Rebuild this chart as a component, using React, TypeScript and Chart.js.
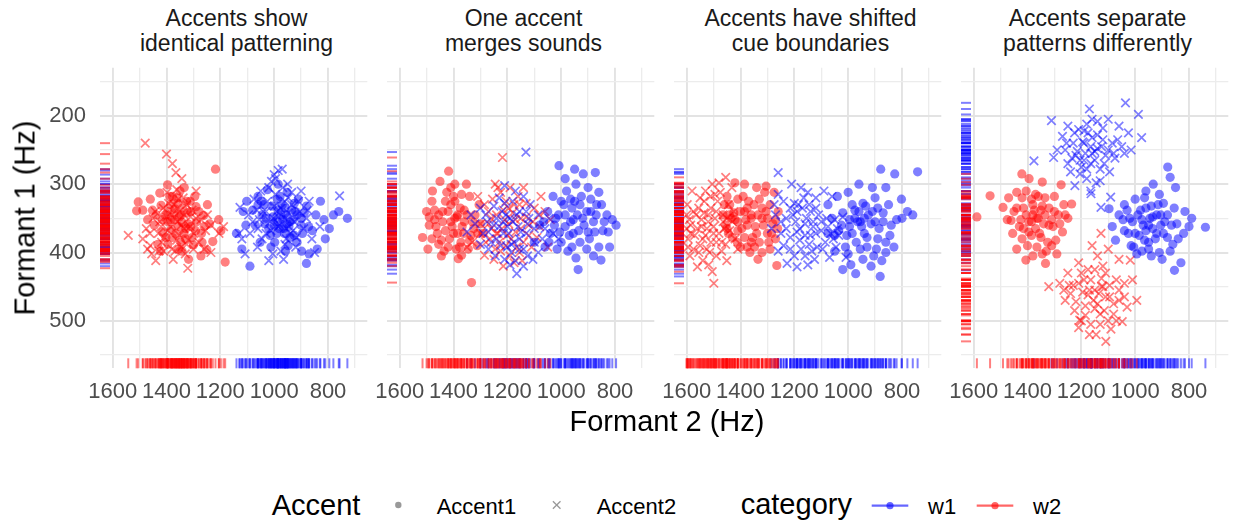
import React, { useEffect, useRef } from "react";
import { Chart, registerables } from "chart.js";
Chart.register(...registerables);

// ---------- data: [Formant 2 (Hz), Formant 1 (Hz)] ----------
const FACET_TITLES: string[][] = [
  ["Accents show", "identical patterning"],
  ["One accent", "merges sounds"],
  ["Accents have shifted", "cue boundaries"],
  ["Accents separate", "patterns differently"],
];
const F2_GRID = [700, 800, 900, 1000, 1100, 1200, 1300, 1400, 1500, 1600];
const F2_LABELED = [800, 1000, 1200, 1400, 1600];
const F1_GRID = [150, 200, 250, 300, 350, 400, 450, 500, 550];
const F1_LABELED = [200, 300, 400, 500];
const F2_MIN = 654, F2_MAX = 1647;
const F1_MIN = 129.6, F1_MAX = 569.4;

// Panel 1
const P1_W1_ACCENT1: number[][] = [[1115,340],[1140,372],[1102,325],[1060,318],[1025,308],[985,300],[952,312],[910,322],[880,332],[845,345],[815,352],[780,345],[760,340],[810,380],[840,395],[870,402],[1120,395],[1090,420],[1052,385],[1000,360],[975,345],[940,355],[925,375],[960,335],[990,372],[1030,350],[1070,360],[900,360],[858,368],[828,325],[1012,392],[948,390],[898,398],[880,416],[1080,338],[1038,330],[965,365],[920,340],[1105,360],[795,365],[988,322],[728,350],
  [985,338],[955,345],[930,352],[1005,348],[970,330],[945,362],[915,345],[1020,365],[990,355],[962,372],[935,338],[900,350],[1045,345],[978,318],[1008,332],[925,328],[952,358],[888,342],[1035,358],[968,352],[1060,330],[872,362],[942,378],[1015,375],[998,385],[915,385],[982,365],[1048,325],[895,372],[958,398]];
const P1_W1_ACCENT2: number[][] = [[1127,334],[757,317],[1000,286],[985,280],[970,278],[1010,296],[950,300],[1050,310],[1075,322],[1095,345],[1040,340],[1015,355],[990,340],[960,350],[935,330],[905,340],[880,350],[930,368],[955,380],[1030,372],[1060,365],[1090,372],[1005,402],[975,398],[920,392],[860,380],[830,362],[1130,372],[1120,380],[1108,402],[948,320],[995,315],[1025,325],[978,360],[1062,392],[900,310],[870,325],[850,400],[1020,412],[965,410],
  [975,335],[948,342],[1002,350],[925,355],[985,362],[960,325],[1030,340],[910,325],[1012,368],[940,372],[968,305],[995,292],[1055,352],[890,365],[1080,355],[935,312],[1020,305],[960,388],[1045,380],[875,338],[1000,332],[918,378],[985,348],[1065,338],[955,365]];
const P1_W2_ACCENT1: number[][] = [[1352,348],[1310,362],[1395,340],[1288,355],[1420,331],[1335,372],[1378,318],[1262,346],[1445,360],[1300,389],[1368,336],[1402,378],[1325,325],[1270,372],[1488,338],[1355,395],[1240,358],[1415,352],[1290,333],[1460,322],[1382,366],[1228,384],[1334,305],[1505,326],[1511,339],[1218,278],[1182,414],[1318,410],[1396,301],[1248,330],[1272,405],[1432,388],[1358,328],[1206,352],[1470,352],[1342,356],[1295,318],[1385,352],[1322,342],[1250,396],[1198,368],[1425,313],
  [1345,345],[1370,352],[1320,358],[1395,355],[1340,335],[1365,372],[1310,340],[1385,330],[1355,362],[1330,380],[1405,345],[1292,368],[1372,342],[1348,385],[1415,370],[1280,340],[1362,320],[1328,365],[1395,388],[1305,378],[1438,345],[1342,398],[1260,362],[1378,378],[1452,338],[1312,325],[1388,318],[1268,385],[1422,398],[1350,310]];
const P1_W2_ACCENT2: number[][] = [[1479,240],[1400,256],[1378,270],[1365,283],[1343,292],[1542,375],[1321,423],[1455,402],[1428,398],[1440,412],[1380,345],[1345,360],[1310,348],[1395,368],[1462,372],[1488,380],[1412,335],[1298,372],[1272,352],[1235,360],[1205,372],[1188,362],[1338,320],[1362,308],[1420,362],[1450,350],[1325,388],[1260,395],[1235,400],[1362,382],[1398,312],[1475,365],[1305,338],[1352,340],[1290,310],[1418,385],[1330,402],[1380,395],[1248,345],[1442,340],
  [1360,355],[1335,345],[1385,362],[1312,362],[1400,348],[1352,375],[1325,330],[1372,330],[1408,378],[1290,350],[1345,392],[1430,372],[1280,385],[1368,398],[1392,328],[1318,382],[1460,390],[1255,368],[1335,365],[1425,355],[1375,410],[1300,395],[1470,395],[1355,322],[1410,398]];

// Panel 2
const P2_W1_ACCENT1: number[][] = [[1008,273],[950,278],[918,285],[873,283],[985,292],[945,300],[900,305],[860,312],[1030,318],[1000,325],[965,322],[930,330],[890,322],[850,330],[830,345],[810,352],[796,360],[1050,340],[1020,350],[985,345],[955,352],[920,350],[880,355],[845,368],[1080,360],[1040,372],[1005,370],[970,375],[935,368],[895,380],[860,392],[820,392],[1100,385],[1060,392],[975,398],[937,425],[852,411],[880,405],[1015,395],[905,340],[960,335],
  [940,345],[915,360],[965,355],[890,340],[985,362],[950,325],[900,370],[930,385],[1010,345],[870,345],[955,372],[990,330],[875,370],[1025,360],[925,318],[960,392],[840,355],[905,395],[1045,385],[868,330],[980,310],[1000,385],[825,370],[945,408],[1065,355]];
const P2_W1_ACCENT2: number[][] = [[1131,253],[1210,302],[1170,310],[1140,318],[1115,330],[1085,345],[1060,365],[1030,372],[1010,380],[1100,385],[1130,372],[1160,362],[1190,350],[1220,340],[1250,332],[1280,345],[1320,358],[1350,370],[1300,388],[1270,395],[1240,380],[1215,372],[1185,388],[1155,395],[1125,405],[1190,418],[1165,431],[1140,420],[1210,410],[1250,360],[1180,325],[1230,320],[1085,400],[1045,350],[1300,335],[1335,345],[1120,350],[1200,392],[1270,370],[1155,340],
  [1180,355],[1205,345],[1150,370],[1230,362],[1165,345],[1195,372],[1125,358],[1240,350],[1175,385],[1210,328],[1140,395],[1260,385],[1100,365],[1185,400],[1225,390],[1155,380],[1290,372],[1070,380],[1200,362],[1130,340],[1245,405],[1170,412],[1105,410],[1275,355],[1215,355]];
const P2_W2_ACCENT1: number[][] = [[1418,281],[1450,296],[1395,300],[1370,315],[1340,318],[1480,325],[1500,340],[1515,378],[1470,352],[1440,340],[1410,330],[1385,345],[1360,338],[1320,345],[1300,358],[1290,372],[1335,375],[1368,362],[1400,372],[1430,368],[1460,372],[1490,360],[1455,388],[1420,392],[1382,409],[1370,404],[1345,395],[1312,390],[1333,444],[1425,312],[1395,325],[1352,300],[1478,310],[1410,355],[1372,385],[1305,330],[1445,405],[1495,395],[1330,355],[1387,348],
  [1395,350],[1420,340],[1375,335],[1440,355],[1405,362],[1360,355],[1430,325],[1385,372],[1455,345],[1350,345],[1415,380],[1470,338],[1325,365],[1400,318],[1445,382],[1378,392],[1490,348],[1340,382],[1465,362],[1410,305],[1362,372],[1435,398],[1310,372],[1480,380],[1390,395]];
const P2_W2_ACCENT2: number[][] = [[1218,261],[1310,318],[1285,330],[1255,322],[1225,312],[1190,305],[1160,318],[1130,328],[1100,335],[1060,340],[1040,352],[1080,362],[1120,360],[1150,350],[1180,342],[1210,352],[1240,345],[1270,358],[1300,372],[1330,385],[1350,392],[1265,380],[1235,372],[1200,375],[1170,370],[1140,385],[1110,392],[1090,378],[1155,400],[1190,405],[1225,398],[1250,410],[1285,404],[1175,330],[1205,325],[1245,300],[1140,305],[1075,318],[1050,392],[1260,350],
  [1195,358],[1170,352],[1220,365],[1150,365],[1240,372],[1185,380],[1215,338],[1130,348],[1260,365],[1165,392],[1205,390],[1105,355],[1280,385],[1145,412],[1230,385],[1195,335],[1120,375],[1270,340],[1175,415],[1245,395],[1080,345],[1300,358],[1155,330],[1215,420],[1235,305]];

// Panel 3
const P3_W1_ACCENT1: number[][] = [[742,282],[879,278],[827,285],[960,300],[910,305],[860,305],[1000,312],[1040,318],[1075,330],[802,322],[850,330],[890,335],[935,332],[975,338],[1020,342],[1060,350],[780,340],[820,352],[870,355],[915,358],[955,355],[995,362],[1035,368],[1075,372],[845,375],[890,380],[930,378],[970,385],[1010,392],[1050,398],[860,400],[905,405],[945,410],[990,418],[881,435],[972,431],[1020,425],[940,350],[900,320],[760,345],[830,392],[985,330],
  [925,345],[950,362],[900,355],[975,350],[885,365],[940,372],[960,340],[910,340],[995,352],[870,342],[930,392],[1005,375],[860,385],[955,395],[1025,360],[895,395],[985,372],[840,360],[945,328],[1050,375],[915,420],[875,412],[1000,402],[800,350],[965,355]];
const P3_W1_ACCENT2: number[][] = [[1260,283],[1210,300],[1175,305],[1150,312],[1120,320],[1090,310],[1060,318],[1240,325],[1200,328],[1170,335],[1140,340],[1110,345],[1080,350],[1050,352],[1020,348],[1270,345],[1230,350],[1195,355],[1160,358],[1130,362],[1100,368],[1065,372],[1035,375],[1285,365],[1250,372],[1215,378],[1180,382],[1145,388],[1115,392],[1085,385],[1227,416],[1190,421],[1069,407],[1008,407],[1260,398],[1160,405],[1125,410],[1215,395],[1045,392],[1275,330],[1140,375],[1190,340],
  [1155,350],[1180,365],[1130,355],[1205,345],[1160,375],[1120,372],[1190,370],[1145,330],[1230,365],[1100,355],[1175,395],[1135,398],[1215,335],[1075,362],[1250,355],[1200,405],[1095,395],[1165,320],[1240,390],[1055,380],[1120,335],[1185,330],[1040,365],[1260,315],[1150,418]];
const P3_W2_ACCENT1: number[][] = [[1421,298],[1385,300],[1340,305],[1305,303],[1275,312],[1450,318],[1410,322],[1370,325],[1330,322],[1290,330],[1260,340],[1465,345],[1435,350],[1400,340],[1360,345],[1320,350],[1280,358],[1445,372],[1410,368],[1375,360],[1340,372],[1300,372],[1270,380],[1400,392],[1360,385],[1348,392],[1320,400],[1265,419],[1290,395],[1420,352],[1385,378],[1305,340],[1350,330],[1440,330],[1262,365],[1330,385],[1380,352],[1455,360],
  [1360,350],[1385,340],[1335,345],[1410,355],[1345,362],[1395,365],[1315,360],[1375,335],[1425,342],[1300,350],[1355,378],[1430,378],[1285,372],[1390,318],[1320,335],[1450,365],[1365,400],[1270,352],[1412,385],[1335,410],[1295,385],[1440,345],[1375,392],[1310,312],[1460,330]];
const P3_W2_ACCENT2: number[][] = [[1598,330],[1590,352],[1585,372],[1575,395],[1560,421],[1499,445],[1518,418],[1451,412],[1470,398],[1490,385],[1540,380],[1565,345],[1550,320],[1530,310],[1505,300],[1480,298],[1455,290],[1432,305],[1445,330],[1465,345],[1495,350],[1520,355],[1545,362],[1510,335],[1485,325],[1460,365],[1430,355],[1420,380],[1410,395],[1525,395],[1555,400],[1580,310],[1600,365],[1595,392],[1500,372],[1475,312],[1440,368],[1535,342],[1570,375],[1490,405],[1512,318],[1455,388],
  [1520,345],[1545,352],[1500,362],[1560,365],[1530,375],[1490,340],[1575,340],[1510,385],[1550,390],[1480,372],[1585,360],[1535,325],[1465,355],[1595,380],[1515,400],[1470,385],[1555,335],[1588,405],[1495,315],[1450,350],[1540,412],[1425,340],[1600,345],[1525,365],[1505,428]];

// Panel 4
const P4_W1_ACCENT1: number[][] = [[879,275],[933,300],[870,290],[960,310],[910,315],[850,305],[1000,322],[1040,330],[1097,336],[980,338],[940,332],[895,328],[855,335],[815,340],[1060,345],[1020,350],[975,352],[935,348],[890,355],[845,358],[800,362],[739,363],[1073,382],[1040,368],[1000,372],[960,368],[920,372],[880,378],[840,380],[994,402],[950,395],[910,400],[870,398],[854,426],[830,415],[965,382],[1015,390],[905,345],[1085,362],[790,350],[950,360],
  [945,350],[970,360],[920,345],[990,345],[935,365],[960,335],[905,360],[985,375],[925,380],[1010,355],[880,345],[950,385],[1025,372],[895,372],[965,320],[1045,352],[865,360],[940,405],[1005,392],[915,330],[975,398],[860,388],[1030,338],[900,410],[820,372]];
const P4_W1_ACCENT2: number[][] = [[1036,181],[1170,190],[1311,207],[976,232],[988,198],[1376,266],[1303,261],[1127,334],[1091,319],[1164,314],[1224,302],[1250,215],[1210,220],[1180,212],[1140,208],[1100,205],[1060,215],[1025,225],[1230,240],[1195,238],[1160,232],[1120,235],[1085,240],[1050,245],[1260,250],[1220,258],[1185,255],[1150,252],[1110,258],[1075,262],[1040,255],[1200,275],[1165,270],[1130,278],[1095,282],[1240,282],[1180,292],[1145,298],[1015,250],[1270,230],[1120,218],[1190,265],
  [1165,245],[1190,240],[1140,248],[1215,252],[1175,225],[1150,265],[1205,265],[1125,245],[1235,262],[1160,255],[1190,222],[1100,250],[1250,270],[1140,228],[1180,278],[1115,270],[1225,225],[1080,255],[1255,240],[1160,205],[1205,285],[1130,295],[1290,250],[1065,235],[1165,310]];
const P4_W2_ACCENT1: number[][] = [[1588,348],[1539,317],[1421,285],[1394,292],[1345,297],[1275,301],[1236,329],[1491,334],[1461,353],[1406,411],[1333,416],[1291,402],[1470,320],[1440,312],[1405,310],[1370,315],[1335,320],[1300,318],[1265,330],[1450,340],[1415,335],[1380,330],[1350,338],[1320,335],[1285,345],[1250,350],[1430,362],[1395,355],[1365,350],[1340,358],[1305,362],[1270,370],[1420,380],[1385,375],[1355,372],[1325,385],[1295,382],[1365,392],[1440,395],[1345,402],[1310,352],[1380,345],
  [1360,350],[1385,355],[1335,345],[1405,345],[1370,365],[1345,332],[1395,370],[1320,360],[1425,352],[1375,338],[1300,340],[1415,365],[1350,378],[1440,335],[1385,322],[1330,398],[1455,372],[1280,358],[1400,390],[1360,318],[1475,352],[1310,390],[1420,320],[1260,345],[1380,405]];
const P4_W2_ACCENT2: number[][] = [[1109,530],[1127,372],[1321,450],[1018,411],[994,470],[1048,501],[1206,499],[1160,390],[1100,395],[1060,410],[1210,415],[1250,430],[1280,445],[1230,448],[1190,440],[1150,425],[1110,430],[1070,440],[1040,445],[1170,455],[1135,460],[1095,465],[1060,470],[1260,470],[1220,472],[1185,478],[1150,482],[1115,485],[1080,490],[1030,480],[1200,500],[1165,505],[1130,505],[1090,512],[1145,520],[1010,440],[1240,460],[1070,500],[1120,450],[1175,425],
  [1150,455],[1175,462],[1125,450],[1195,458],[1140,475],[1165,440],[1110,465],[1210,445],[1130,490],[1185,492],[1095,448],[1225,485],[1155,470],[1080,475],[1245,448],[1120,420],[1200,430],[1060,455],[1170,520],[1100,500],[1265,455],[1040,465],[1140,405],[1210,510],[1125,438]];

const PANELS = [
  [P1_W1_ACCENT1, P1_W1_ACCENT2, P1_W2_ACCENT1, P1_W2_ACCENT2],
  [P2_W1_ACCENT1, P2_W1_ACCENT2, P2_W2_ACCENT1, P2_W2_ACCENT2],
  [P3_W1_ACCENT1, P3_W1_ACCENT2, P3_W2_ACCENT1, P3_W2_ACCENT2],
  [P4_W1_ACCENT1, P4_W1_ACCENT2, P4_W2_ACCENT1, P4_W2_ACCENT2],
];

// ---------- styling ----------
const FONT = '"Liberation Sans", Arial, Helvetica, sans-serif';
const BLUE = "rgba(0,0,255,0.5)";
const RED = "rgba(255,0,0,0.5)";
const GROUP_STYLE = [
  { color: BLUE, accent: 1 },
  { color: BLUE, accent: 2 },
  { color: RED, accent: 1 },
  { color: RED, accent: 2 },
];
const PANEL_LEFTS = [100, 387, 674, 961];
const PANEL_W = 273;
const CANVAS_TOP = 60;
const CANVAS_H = 360;
const PAD_TOP = 7;
const X_AXIS_H = 51.7;

const rugPlugin = {
  id: "rug",
  afterDatasetsDraw(chart: any) {
    const { ctx, chartArea, scales } = chart;
    const xs = scales.x, ys = scales.y;
    ctx.save();
    chart.data.datasets.forEach((ds: any) => {
      ctx.strokeStyle = ds.rugColor;
      ctx.lineWidth = 2;
      ds.data.forEach((pt: any) => {
        const px = xs.getPixelForValue(pt.x);
        const py = ys.getPixelForValue(pt.y);
        ctx.beginPath();
        ctx.moveTo(chartArea.left, py);
        ctx.lineTo(chartArea.left + 10, py);
        ctx.stroke();
        ctx.beginPath();
        ctx.moveTo(px, chartArea.bottom);
        ctx.lineTo(px, chartArea.bottom - 10);
        ctx.stroke();
      });
    });
    ctx.restore();
  },
};

function Panel({ idx }: { idx: number }) {
  const ref = useRef<HTMLCanvasElement>(null);
  const first = idx === 0;
  const L = PANEL_LEFTS[idx];
  const leftPad = first ? L : 14;
  const canvasLeft = L - leftPad;
  const canvasW = leftPad + PANEL_W + 2;

  useEffect(() => {
    const groups = PANELS[idx];
    const chart = new Chart(ref.current as HTMLCanvasElement, {
      type: "scatter",
      data: {
        datasets: groups.map((pts, g) => {
          const st = GROUP_STYLE[g];
          const circ = st.accent === 1;
          return {
            data: pts.map(([x, y]) => ({ x, y })),
            pointStyle: circ ? "circle" : "crossRot",
            pointRadius: circ ? 4.6 : 6,
            pointHoverRadius: circ ? 4.6 : 6,
            backgroundColor: st.color,
            borderColor: st.color,
            borderWidth: circ ? 0 : 1.7,
            rugColor: st.color,
          } as any;
        }),
      },
      options: {
        responsive: false,
        animation: false,
        events: [],
        layout: { padding: { top: PAD_TOP, right: 2, left: 0, bottom: 0 } },
        plugins: { legend: { display: false }, tooltip: { enabled: false }, title: { display: false } },
        scales: {
          x: {
            type: "linear",
            min: F2_MIN,
            max: F2_MAX,
            reverse: true,
            afterBuildTicks: (s: any) => { s.ticks = F2_GRID.map((v) => ({ value: v })); },
            afterFit: (s: any) => {
              s.height = X_AXIS_H;
              s.paddingLeft = 0; s.paddingRight = 0; s.paddingTop = 0; s.paddingBottom = 0;
            },
            border: { display: false },
            grid: {
              drawTicks: false,
              color: (c: any) => (F2_LABELED.includes(c.tick?.value) ? "#e3e3e3" : "#ececec"),
              lineWidth: (c: any) => (F2_LABELED.includes(c.tick?.value) ? 1.9 : 1.3),
            },
            ticks: {
              autoSkip: false,
              maxRotation: 0,
              minRotation: 0,
              padding: 10,
              color: "#4d4d4d",
              font: { family: FONT, size: 22 },
              callback: (v: any) => (F2_LABELED.includes(Number(v)) ? String(v) : ""),
            },
          },
          y: {
            type: "linear",
            min: F1_MIN,
            max: F1_MAX,
            reverse: true,
            afterBuildTicks: (s: any) => { s.ticks = F1_GRID.map((v) => ({ value: v })); },
            afterFit: (s: any) => {
              s.width = leftPad;
              s.paddingLeft = 0; s.paddingRight = 0; s.paddingTop = 0; s.paddingBottom = 0;
            },
            border: { display: false },
            grid: {
              drawTicks: false,
              color: (c: any) => (F1_LABELED.includes(c.tick?.value) ? "#e3e3e3" : "#ececec"),
              lineWidth: (c: any) => (F1_LABELED.includes(c.tick?.value) ? 1.9 : 1.3),
            },
            ticks: {
              display: first,
              autoSkip: false,
              padding: 14,
              color: "#4d4d4d",
              font: { family: FONT, size: 22 },
              callback: (v: any) => (F1_LABELED.includes(Number(v)) ? String(v) : ""),
            },
          },
        },
      } as any,
      plugins: [rugPlugin as any],
    });
    return () => chart.destroy();
  }, []);

  return (
    <canvas
      ref={ref}
      width={canvasW}
      height={CANVAS_H}
      style={{ position: "absolute", left: canvasLeft, top: CANVAS_TOP, width: canvasW, height: CANVAS_H }}
    />
  );
}

function Txt({ x, baseline, size, text, color = "#000", center = false, width = 0 }: any) {
  const top = baseline - 0.8465 * size;
  return (
    <div
      style={{
        position: "absolute",
        left: center ? x - width / 2 : x,
        top,
        width: center ? width : undefined,
        textAlign: center ? "center" : "left",
        fontSize: size,
        lineHeight: `${size}px`,
        color,
        whiteSpace: "nowrap",
        fontFamily: FONT,
      }}
    >
      {text}
    </div>
  );
}

export default function App() {
  return (
    <div style={{ position: "absolute", left: 0, top: 0, width: 1237, height: 525, background: "#fff", overflow: "hidden", fontFamily: FONT }}>
      {FACET_TITLES.map((lines, i) => (
        <div
          key={"t" + i}
          style={{
            position: "absolute",
            left: PANEL_LEFTS[i],
            top: 6.2,
            width: PANEL_W,
            textAlign: "center",
            fontSize: 23,
            lineHeight: "25px",
            color: "#1a1a1a",
            whiteSpace: "nowrap",
          }}
        >
          {lines[0]}
          <br />
          {lines[1]}
        </div>
      ))}
      {[0, 1, 2, 3].map((i) => (
        <Panel key={i} idx={i} />
      ))}
      <div
        style={{
          position: "absolute",
          left: 24.6,
          top: 217.5,
          transform: "translate(-50%, -50%) rotate(-90deg)",
          fontSize: 29,
          lineHeight: "29px",
          whiteSpace: "nowrap",
          color: "#000",
        }}
      >
        Formant 1 (Hz)
      </div>
      <Txt x={667} width={400} center baseline={431.7} size={29} text="Formant 2 (Hz)" />
      {/* legend */}
      <Txt x={271.7} baseline={515.7} size={29} text="Accent" />
      <Txt x={436.7} baseline={514.3} size={22} text="Accent1" />
      <Txt x={596.7} baseline={514.3} size={22} text="Accent2" />
      <Txt x={740.7} baseline={515} size={29} text="category" />
      <Txt x={928} baseline={514.3} size={22} text="w1" />
      <Txt x={1033} baseline={514.3} size={22} text="w2" />
      <svg width={1237} height={525} style={{ position: "absolute", left: 0, top: 0, pointerEvents: "none" }}>
        <circle cx={398.3} cy={505} r={3.2} fill="#999" />
        <line x1={552.9} y1={501.2} x2={560.5} y2={508.8} stroke="#999" strokeWidth={1.3} />
        <line x1={552.9} y1={508.8} x2={560.5} y2={501.2} stroke="#999" strokeWidth={1.3} />
        <line x1={871.7} y1={505.7} x2={908.3} y2={505.7} stroke="rgba(0,0,255,0.6)" strokeWidth={2.2} />
        <circle cx={890} cy={505.7} r={3.6} fill="rgba(0,0,255,0.6)" />
        <line x1={976.7} y1={505.7} x2={1013.3} y2={505.7} stroke="rgba(255,0,0,0.6)" strokeWidth={2.2} />
        <circle cx={995} cy={505.7} r={3.6} fill="rgba(255,0,0,0.6)" />
      </svg>
    </div>
  );
}
